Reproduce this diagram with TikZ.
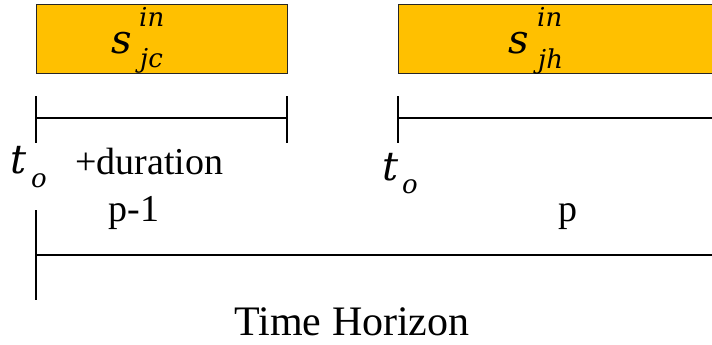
\documentclass[tikz,border=0pt]{standalone}
\usepackage{fontspec}
\setmainfont{Liberation Serif}
\newfontfamily\varfont{DejaVu Serif}[UprightFont=* Italic]
\usepackage{tikz}

\definecolor{barorange}{HTML}{FFC000}

\begin{document}
\begin{tikzpicture}[x=1pt,y=-1pt,
		bar/.style={fill=barorange,draw=black!85,line width=1pt},
		tickline/.style={line width=1.3pt},
		txt/.style={inner sep=0pt,anchor=base west},
		big/.style={font=\fontsize{40}{44}\selectfont\varfont},
		small/.style={font=\fontsize{26}{30}\selectfont\varfont},
		plain/.style={font=\fontsize{38}{42}\selectfont}]
		\useasboundingbox (0,0) rectangle (712,345);
		
		% Barre dei compiti
		\draw[bar] (36,5) rectangle (287,74); % Barra periodo p-1
		\draw[bar] (398,5) rectangle (720,74); % Barra periodo p
		
		% Etichette delle barre
		\node[txt,big] (s1) at (111,53) {s};
		\node[txt,small] (s1in) at (139,27) {in};
		\node[txt,small] (s1jc) at (140,67) {jc};
		\node[txt,big] (s2) at (508,53) {s};
		\node[txt,small] (s2in) at (537,27) {in};
		\node[txt,small] (s2jh) at (538,68) {jh};
		
		% Intervallo p-1
		\draw[tickline] (36,118) -- (287,118); % Segmento
		\draw[tickline] (36,96) -- (36,143); % Inizio
		\draw[tickline] (287,96) -- (287,143); % Fine
		
		% Intervallo p
		\draw[tickline] (398,118) -- (720,118); % Segmento
		\draw[tickline] (398,96) -- (398,143); % Inizio
		
		% Istanti iniziali
		\node[txt,big] (t1) at (10,173) {t};
		\node[txt,small] (o1) at (31,187) {o};
		\node[txt,big] (t2) at (382,180) {t};
		\node[txt,small] (o2) at (402,193) {o};
		
		% Testi dei periodi
		\node[txt,plain] (dur) at (75,174) {+duration};
		\node[inner sep=0pt,anchor=base,plain] (pm1) at (134,221) {p-1};
		\node[inner sep=0pt,anchor=base,plain] (pp) at (568,221) {p};
		
		% Orizzonte temporale
		\draw[tickline] (36,255) -- (720,255); % Retta
		\draw[tickline] (36,210) -- (36,300); % Origine
		\node[inner sep=0pt,anchor=base,font=\fontsize{42}{46}\selectfont] (th) at (352,335) {Time Horizon};
	\end{tikzpicture}
\end{document}
